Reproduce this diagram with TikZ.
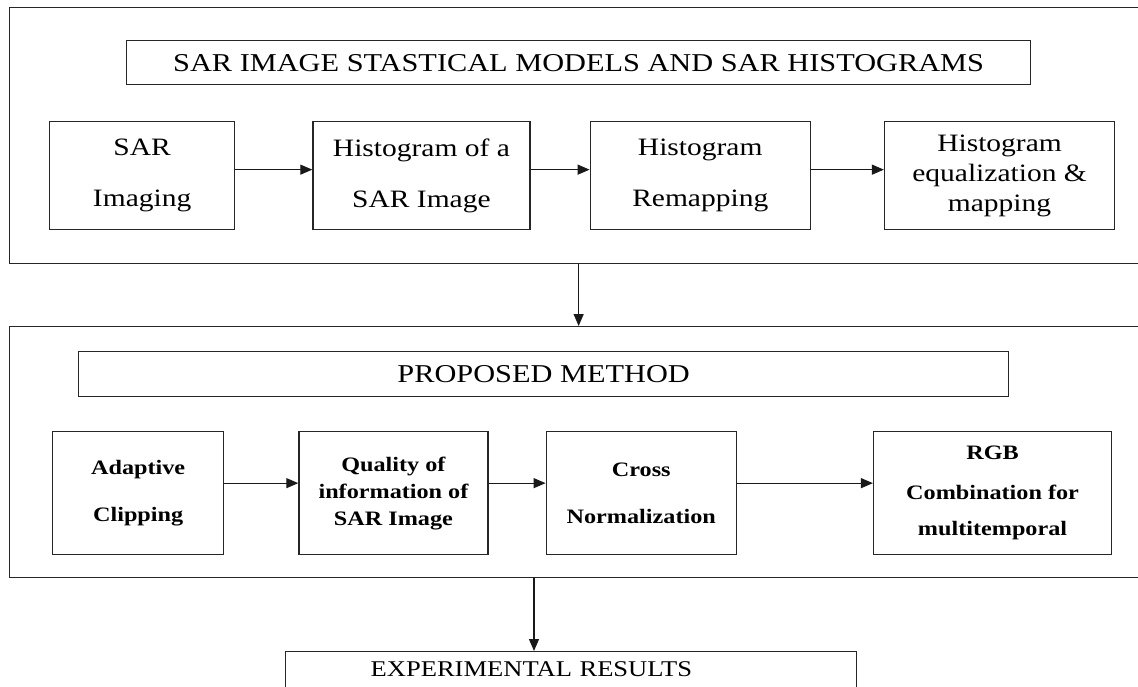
\documentclass[tikz,border=0pt]{standalone}
\usepackage{fontspec}
\setmainfont{Liberation Serif}[FakeStretch=1.18]
\usetikzlibrary{positioning, arrows.meta}

\newcommand\headfont{\fontsize{25.7}{30}\selectfont}
\newcommand\rowafont{\fontsize{25}{30}\selectfont}
\newcommand\rowbfont{\fontsize{20.5}{27}\selectfont\bfseries}
\newcommand\resfont{\fontsize{22.5}{27}\selectfont}

\begin{document}
\begin{tikzpicture}[
  x=1pt, y=-1pt,
  frame/.style   ={draw=black!85, line width=1.3pt, anchor=north west, minimum width=1160pt, inner sep=0pt},
  heading/.style ={draw=black!85, line width=1.3pt, anchor=north west, minimum height=44pt, font=\headfont, inner sep=0pt},
  stepbox/.style ={draw=black!85, line width=1.3pt, align=center, inner sep=0pt},
  rowa/.style    ={stepbox, minimum height=108pt, font=\rowafont},
  rowb/.style    ={stepbox, minimum height=123pt, font=\rowbfont},
  arr/.style     ={-{Triangle[length=12pt, width=10pt]}, line width=1.2pt, draw=black!90},
]
\clip (0,0) rectangle (1138,687);

% first stage
\node[frame, minimum height=256pt] (stage1) at (9,7) {};
\node[heading, minimum width=904pt] (title1) at (126,40) {SAR IMAGE STASTICAL MODELS AND SAR HISTOGRAMS};
\node[rowa, anchor=north west, minimum width=185pt] (b1) at (49,121) {SAR\\[21pt]Imaging};
\node[rowa, right=77pt of b1, minimum width=217pt] (b2) {Histogram of a\\[21pt]SAR Image};
\node[rowa, right=59pt of b2, minimum width=220pt] (b3) {Histogram\\[21pt]Remapping};
\node[rowa, right=73pt of b3, minimum width=230pt] (b4) {Histogram\\equalization \&\\mapping};

% second stage
\node[frame, minimum height=251pt] (stage2) at (9,326) {};
\node[heading, minimum width=930pt, minimum height=45pt] (title2) at (78,351) {PROPOSED METHOD};
\node[rowb, anchor=north west, minimum width=171pt] (c1) at (52,431) {Adaptive\\[20pt]Clipping};
\node[rowb, right=74pt of c1, minimum width=189pt] (c2) {Quality of\\information of\\SAR Image};
\node[rowb, right=57pt of c2, minimum width=190pt] (c3) {Cross\\[20pt]Normalization};
\node[rowb, right=136pt of c3, minimum width=238pt] (c4) {RGB\\[13pt]Combination for\\[9pt]multitemporal};

% results
\node[stepbox, anchor=north west, minimum width=571pt, text width=401pt, align=left,
      inner xsep=85pt, inner ysep=10pt, text depth=40pt, font=\resfont] (results) at (285,651) {EXPERIMENTAL RESULTS};
\coordinate (drop) at (534,600);

\foreach \a/\b in {b1/b2, b2/b3, b3/b4}
  \draw[arr] ([yshift=6pt]\a.east) -- ([yshift=6pt]\b.west);
\foreach \a/\b in {c1/c2, c2/c3, c3/c4}
  \draw[arr] ([yshift=10pt]\a.east) -- ([yshift=10pt]\b.west);
\draw[arr] (stage1.south -| title1) -- (stage2.north -| title1);
\draw[arr] (stage2.south -| drop) -- (results.north -| drop);
\end{tikzpicture}
\end{document}
